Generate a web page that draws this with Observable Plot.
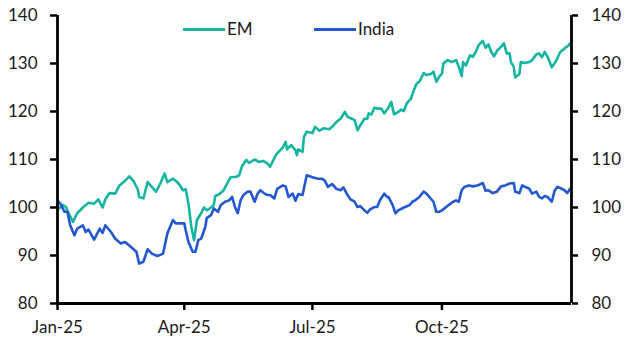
<!DOCTYPE html>
<html>
<head>
<meta charset="utf-8">
<script src="https://cdn.jsdelivr.net/npm/d3@7"></script>
<script src="https://cdn.jsdelivr.net/npm/@observablehq/plot@0.6"></script>
<style>
  html, body { margin: 0; padding: 0; background: #fff; }
  #wrap { position: relative; width: 631px; height: 356px; font-family: Lato, "Open Sans", sans-serif; }
  .leg { position: absolute; top: 19px; height: 20px; line-height: 20px; display: flex; align-items: center; font-size: 17px; color: #1a1a1a; }
  .leg .sw { display: inline-block; width: 42px; height: 3px; margin-right: 2px; }
</style>
</head>
<body>
<div id="wrap"></div>
<script>
// ---- Data ----
const seriesNames = ["EM", "India"];
const seriesColors = ["#16b5a3", "#2358d0"];

const emDates = [
  "2025-01-01","2025-01-05","2025-01-07","2025-01-09","2025-01-12","2025-01-15","2025-01-19","2025-01-23","2025-01-27","2025-01-30",
  "2025-02-02","2025-02-04","2025-02-07","2025-02-11","2025-02-14","2025-02-17","2025-02-21","2025-02-24","2025-02-27","2025-02-28",
  "2025-03-03","2025-03-06","2025-03-09","2025-03-12","2025-03-15","2025-03-18","2025-03-20","2025-03-24","2025-03-27","2025-03-29","2025-03-31",
  "2025-04-02","2025-04-04","2025-04-06","2025-04-08","2025-04-09","2025-04-10","2025-04-13","2025-04-15","2025-04-17","2025-04-20","2025-04-22","2025-04-23","2025-04-26","2025-04-29",
  "2025-05-02","2025-05-04","2025-05-08","2025-05-10","2025-05-12","2025-05-15","2025-05-17","2025-05-21","2025-05-24","2025-05-27","2025-05-30",
  "2025-06-01","2025-06-05","2025-06-07","2025-06-10","2025-06-12","2025-06-13","2025-06-16","2025-06-19","2025-06-20","2025-06-21","2025-06-24","2025-06-25","2025-06-27",
  "2025-07-01","2025-07-03","2025-07-06","2025-07-09","2025-07-13","2025-07-15","2025-07-18","2025-07-21","2025-07-24","2025-07-26","2025-07-29","2025-07-31",
  "2025-08-02","2025-08-04","2025-08-07","2025-08-09","2025-08-10","2025-08-12","2025-08-14","2025-08-16","2025-08-19","2025-08-21","2025-08-24","2025-08-26","2025-08-28","2025-08-31",
  "2025-09-02","2025-09-04","2025-09-06","2025-09-09","2025-09-11","2025-09-13","2025-09-15","2025-09-18","2025-09-20","2025-09-23","2025-09-25","2025-09-27","2025-09-29",
  "2025-10-01","2025-10-02","2025-10-05","2025-10-08","2025-10-11","2025-10-13","2025-10-15","2025-10-16","2025-10-18","2025-10-21","2025-10-23","2025-10-25","2025-10-27","2025-10-30",
  "2025-11-01","2025-11-03","2025-11-05","2025-11-07","2025-11-09","2025-11-12","2025-11-14","2025-11-16","2025-11-18","2025-11-19","2025-11-21","2025-11-22","2025-11-25","2025-11-26","2025-11-29",
  "2025-12-02","2025-12-04","2025-12-07","2025-12-09","2025-12-11","2025-12-13","2025-12-15","2025-12-18","2025-12-21","2025-12-24","2025-12-27","2025-12-30","2025-12-31"
];
const emValues = [
  99.6,100.5,100.1,98.8,97.0,98.8,100.0,101.0,100.8,101.7,
  100.0,101.7,103.0,102.9,104.6,105.3,106.5,105.5,103.8,102.2,
  101.9,105.3,104.3,103.3,105.0,107.1,105.3,106.0,105.3,104.6,103.6,
  103.8,100.8,96.0,93.2,95.3,97.4,98.8,100.0,99.4,100.0,100.5,102.4,102.8,103.6,
  105.3,106.3,106.4,106.7,108.6,109.9,109.3,110.0,109.5,109.7,109.2,
  108.5,110.9,111.6,112.5,113.7,112.1,113.0,111.9,110.9,112.1,111.6,114.7,115.8,
  115.5,116.8,116.0,116.5,116.3,116.8,117.8,118.5,119.9,118.9,118.5,118.2,
  116.1,117.1,118.5,118.5,119.6,119.4,120.8,120.6,120.6,119.6,120.8,122.0,119.4,119.9,
  120.4,120.1,121.7,122.7,124.4,125.8,126.2,128.0,127.6,127.8,128.3,126.2,127.2,
  127.9,130.0,130.7,130.3,130.7,129.3,127.4,130.3,129.6,131.7,131.4,132.4,133.8,134.7,
  133.3,134.0,132.4,131.5,132.6,133.5,134.2,132.1,132.1,130.3,129.3,127.1,127.8,130.3,130.1,
  130.3,130.7,131.9,132.1,131.3,132.4,131.4,129.2,130.5,132.4,133.1,133.8,134.2
];

const indiaDates = [
  "2025-01-01","2025-01-03","2025-01-06","2025-01-08","2025-01-10","2025-01-13","2025-01-15","2025-01-19","2025-01-21","2025-01-23","2025-01-27","2025-01-31",
  "2025-02-02","2025-02-04","2025-02-08","2025-02-11","2025-02-15","2025-02-18","2025-02-22","2025-02-26","2025-02-28",
  "2025-03-03","2025-03-06","2025-03-09","2025-03-13","2025-03-17","2025-03-18","2025-03-20","2025-03-24","2025-03-26","2025-03-30",
  "2025-04-01","2025-04-02","2025-04-04","2025-04-07","2025-04-09","2025-04-11","2025-04-13","2025-04-16","2025-04-17","2025-04-20","2025-04-22","2025-04-25","2025-04-27","2025-04-30",
  "2025-05-03","2025-05-05","2025-05-07","2025-05-09","2025-05-11","2025-05-13","2025-05-16","2025-05-18","2025-05-21","2025-05-23","2025-05-25","2025-05-28","2025-05-30",
  "2025-06-01","2025-06-04","2025-06-06","2025-06-10","2025-06-12","2025-06-14","2025-06-17","2025-06-19","2025-06-21","2025-06-24","2025-06-27",
  "2025-07-01","2025-07-05","2025-07-08","2025-07-10","2025-07-12","2025-07-15","2025-07-18","2025-07-21","2025-07-23","2025-07-26","2025-07-28","2025-07-31",
  "2025-08-02","2025-08-04","2025-08-07","2025-08-09","2025-08-11","2025-08-14","2025-08-16","2025-08-18","2025-08-21","2025-08-23","2025-08-24","2025-08-27","2025-08-29","2025-08-31",
  "2025-09-04","2025-09-08","2025-09-10","2025-09-12","2025-09-15","2025-09-18","2025-09-20","2025-09-22","2025-09-25","2025-09-27","2025-09-29",
  "2025-10-01","2025-10-04","2025-10-07","2025-10-09","2025-10-11","2025-10-13","2025-10-15","2025-10-17","2025-10-20","2025-10-23","2025-10-26","2025-10-28","2025-10-30",
  "2025-11-01","2025-11-03","2025-11-06","2025-11-09","2025-11-12","2025-11-15","2025-11-18","2025-11-21","2025-11-22","2025-11-25","2025-11-27","2025-11-29",
  "2025-12-02","2025-12-04","2025-12-07","2025-12-09","2025-12-11","2025-12-13","2025-12-15","2025-12-18","2025-12-20","2025-12-22","2025-12-25","2025-12-27","2025-12-29","2025-12-31"
];
const indiaValues = [
  101.5,100.8,99.1,99.1,96.3,94.2,95.6,96.3,94.9,95.4,93.3,95.6,
  94.7,96.3,94.9,93.5,92.5,92.8,91.8,90.8,88.3,
  88.7,91.3,90.4,89.9,90.4,91.8,94.6,97.4,96.7,96.7,
  96.7,95.3,92.8,90.8,90.8,93.2,93.5,96.0,97.8,98.4,99.8,99.1,100.5,101.2,
  101.5,102.2,100.1,98.8,101.5,102.6,103.3,103.3,101.2,102.8,103.6,102.9,102.6,
  102.6,101.9,103.9,104.6,104.4,102.2,102.9,101.4,102.8,102.6,106.7,
  106.3,106.0,106.0,105.5,104.3,104.9,103.9,103.6,104.2,102.6,101.7,101.2,
  100.1,100.3,99.4,98.9,99.6,100.1,100.1,101.5,102.9,102.2,102.2,100.5,98.8,99.4,
  100.0,100.5,101.2,101.5,102.2,103.3,102.9,102.2,101.2,99.1,99.1,
  99.4,100.1,100.8,101.2,101.5,101.2,103.6,104.3,104.6,104.4,104.6,104.8,105.1,
  103.5,103.6,103.0,103.3,104.4,104.6,105.0,105.1,103.3,103.0,104.6,104.3,
  103.9,102.9,103.3,102.2,101.9,102.4,102.2,101.2,103.5,104.3,103.9,103.6,103.0,103.9
];

const yTicks = [80, 90, 100, 110, 120, 130, 140];
const xTickDates = ["2025-01-01", "2025-04-01", "2025-07-01", "2025-10-01"];
const xTickLabels = ["Jan-25", "Apr-25", "Jul-25", "Oct-25"];
const xDomain = ["2025-01-01", "2026-01-01"];

// ---- Build table ----
const parse = d3.utcParse("%Y-%m-%d");
const rows = [
  ...emDates.map((d, i) => ({date: parse(d), value: emValues[i], series: seriesNames[0]})),
  ...indiaDates.map((d, i) => ({date: parse(d), value: indiaValues[i], series: seriesNames[1]}))
];
const domX = xDomain.map(parse);
const tickX = xTickDates.map(parse);

const axisColor = "#000";
const textColor = "#1a1a1a";

const chart = Plot.plot({
  width: 631,
  height: 356,
  marginLeft: 57,
  marginRight: 60,
  marginTop: 15,
  marginBottom: 53,
  style: {fontFamily: "Lato, 'Open Sans', sans-serif", fontSize: "17px", color: textColor, background: "#fff"},
  x: {type: "utc", domain: domX},
  y: {domain: [yTicks[0], yTicks[yTicks.length - 1]]},
  color: {domain: seriesNames, range: seriesColors},
  marks: [
    Plot.axisY({anchor: "left", ticks: yTicks, tickSize: 7, tickPadding: 13, strokeWidth: 2.5, stroke: axisColor, label: null, fill: textColor}),
    Plot.axisY({anchor: "right", ticks: yTicks, tickSize: 6, tickPadding: 14, strokeWidth: 2.5, stroke: axisColor, label: null, fill: textColor}),
    Plot.axisX({ticks: tickX, tickFormat: (d, i) => xTickLabels[i], tickSize: 7, tickPadding: 10, strokeWidth: 2.5, stroke: axisColor, label: null, fill: textColor}),
    Plot.line(rows, {x: "date", y: "value", z: "series", stroke: "series", strokeWidth: 2.6, curve: "linear"}),
    Plot.ruleX([domX[0]], {stroke: axisColor, strokeWidth: 2.8}),
    Plot.ruleX([domX[1]], {stroke: axisColor, strokeWidth: 2.8}),
    Plot.ruleY([yTicks[0]], {stroke: axisColor, strokeWidth: 2.8})
  ]
});

const wrap = document.getElementById("wrap");
wrap.appendChild(chart);

// ---- Legend (HTML) ----
const legendLeft = [183, 314];
seriesNames.forEach((name, i) => {
  const item = document.createElement("div");
  item.className = "leg";
  item.style.left = legendLeft[i] + "px";
  const sw = document.createElement("span");
  sw.className = "sw";
  sw.style.background = seriesColors[i];
  const tx = document.createElement("span");
  tx.textContent = name;
  item.appendChild(sw);
  item.appendChild(tx);
  wrap.appendChild(item);
});
</script>
</body>
</html>
